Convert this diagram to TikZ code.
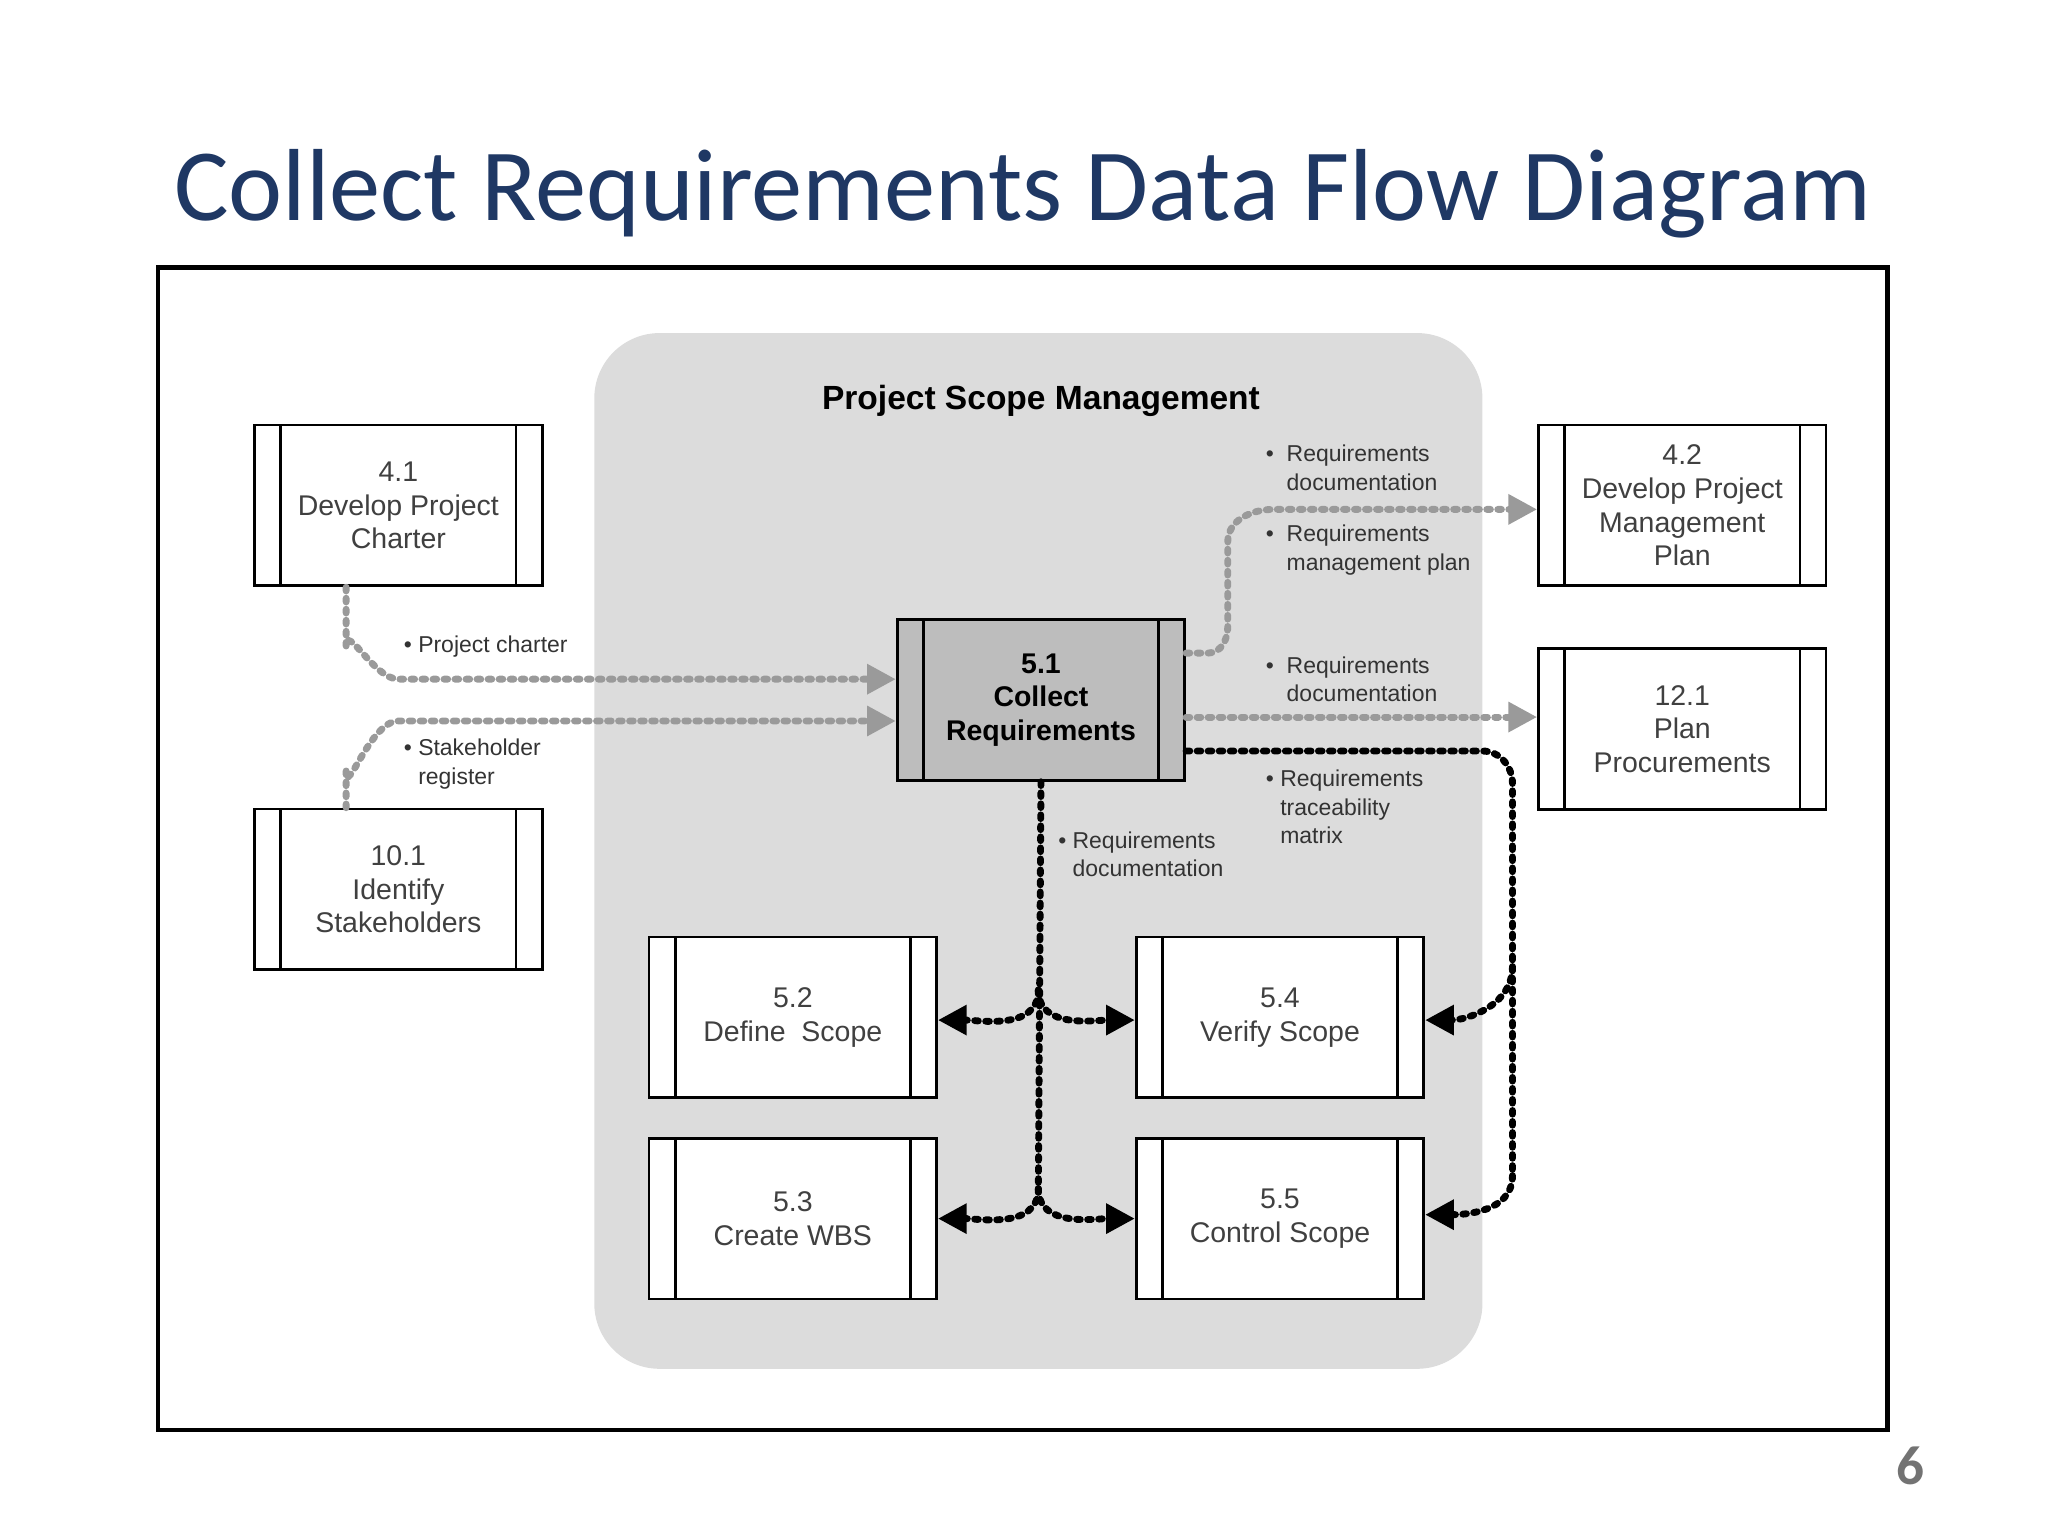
\documentclass[tikz,border=0pt]{standalone}
\usepackage{fontspec}
\setmainfont{Carlito}
\newfontfamily\lab{Liberation Sans}
\usetikzlibrary{arrows.meta,calc}
\definecolor{titleblue}{HTML}{1F3864}
\definecolor{regiongray}{HTML}{DCDCDC}
\definecolor{boxgray}{HTML}{BDBDBD}
\definecolor{flowgray}{HTML}{9A9A9A}
\tikzset{
  proc/.style={draw, line width=0.6pt, fill=white, minimum width=2.2cm, minimum height=1.23cm,
    align=center, font=\lab\fontsize{6.2}{7.3}\selectfont, text=black!75, inner sep=1pt,
    path picture={
      \draw[line width=0.6pt] ([xshift=0.2cm]path picture bounding box.north west) -- ([xshift=0.2cm]path picture bounding box.south west);
      \draw[line width=0.6pt] ([xshift=-0.2cm]path picture bounding box.north east) -- ([xshift=-0.2cm]path picture bounding box.south east);}},
  lbl/.style={align=left, font=\lab\fontsize{5}{6.2}\selectfont, text=black!80, inner sep=1pt},
  gflow/.style={flowgray, line width=1.5pt, dash pattern=on 0.8pt off 1.6pt, line cap=round},
  bflow/.style={black, line width=1.5pt, dash pattern=on 0.8pt off 1.6pt, line cap=round},
  gtip/.style={-{Triangle[length=2.2mm,width=2.2mm,fill=flowgray]}},
  btip/.style={-{Triangle[length=2.2mm,width=2.2mm]}},
}
\begin{document}
\begin{tikzpicture}[x=0.01cm,y=-0.01cm]
\useasboundingbox (0,0) rectangle (1568,1176);
\node[text=titleblue, font=\fontsize{22.3}{25}\selectfont] (title) at (783,148) {Collect Requirements Data Flow Diagram};
\node[text=black!55, font=\bfseries\fontsize{12}{14}\selectfont] (pg) at (1463,1122) {6};
\draw[line width=1pt] (121,205) rectangle (1445,1095);
\fill[regiongray, rounded corners=0.5cm] (455,255) rectangle (1135,1048);
\node[font=\lab\bfseries\fontsize{7.3}{9}\selectfont] (psm) at (797,307) {Project Scope Management};

\node[proc] (p41) at (305,387) {4.1\\Develop Project\\Charter};
\node[proc] (p101) at (305,681) {10.1\\Identify\\Stakeholders};
\node[proc] (p42) at (1288,387) {4.2\\Develop Project\\Management\\Plan};
\node[proc] (p121) at (1288,558) {12.1\\Plan\\Procurements};
\node[proc, fill=boxgray, font=\lab\bfseries\fontsize{6.2}{7.3}\selectfont, text=black] (p51) at (797,536) {5.1\\Collect\\Requirements};
\node[proc] (p52) at (607,779) {5.2\\Define\ \ Scope};
\node[proc] (p54) at (980,779) {5.4\\Verify Scope};
\node[proc] (p53) at (607,933) {5.3\\Create WBS};
\node[proc] (p55) at (980,933) {5.5\\Control Scope};

% gray flows
\draw[gflow, gtip] (p41.south -| 265,0) -- (265,495) to[out=90,in=180] (305,520) -- (p51.west |- 0,520);
\draw[gflow, gtip] (p101.north -| 265,0) -- (265,590) to[out=-90,in=180] (305,552) -- (p51.west |- 0,552);
\draw[gflow, gtip] (p51.east |- 0,500) -- (925,500) to[out=0,in=-90] (940,480) -- (940,415) to[out=90,in=180] (975,390) -- (p42.west |- 0,390);
\draw[gflow, gtip] (p51.east |- 0,549) -- (p121.west |- 0,549);

% black flows
\draw[bflow] (p51.east |- 0,575) -- (1135,575) to[out=0,in=90] (1158,600) -- (1158,900);
\draw[bflow, btip] (1158,740) to[out=-90,in=0] (p54.east |- 0,781);
\draw[bflow, btip] (1158,900) to[out=-90,in=0] (p55.east |- 0,930);
\draw[bflow] (p51.south) -- (795,910);
\draw[bflow, btip] (795,758) to[out=-90,in=0] (p52.east |- 0,781);
\draw[bflow, btip] (795,758) to[out=-90,in=180] (p54.west |- 0,781);
\draw[bflow, btip] (795,910) to[out=-90,in=0] (p53.east |- 0,933);
\draw[bflow, btip] (795,910) to[out=-90,in=180] (p55.west |- 0,933);

% labels
\node[lbl, anchor=west] (l1) at (305,495) {\textbullet\ Project charter};
\node[lbl, anchor=west] (l2) at (305,585) {\textbullet\ Stakeholder\\\phantom{\textbullet\ }register};
\node[lbl, anchor=west] (l3) at (965,358) {\textbullet\ \ Requirements\\\phantom{\textbullet\ \ }documentation};
\node[lbl, anchor=west] (l4) at (965,421) {\textbullet\ \ Requirements\\\phantom{\textbullet\ \ }management plan};
\node[lbl, anchor=west] (l5) at (965,520) {\textbullet\ \ Requirements\\\phantom{\textbullet\ \ }documentation};
\node[lbl, anchor=west] (l6) at (965,618) {\textbullet\ Requirements\\\phantom{\textbullet\ }traceability\\\phantom{\textbullet\ }matrix};
\node[lbl, anchor=west] (l7) at (806,654) {\textbullet\ Requirements\\\phantom{\textbullet\ }documentation};
\end{tikzpicture}
\end{document}
